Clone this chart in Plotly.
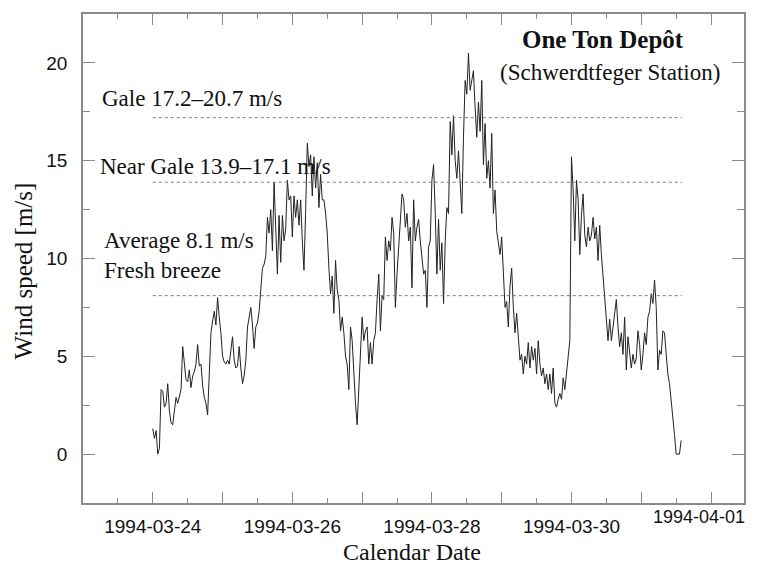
"""Wind speed time series at One Ton Depot (Schwerdtfeger AWS), late March 1994."""
import pandas as pd
import plotly.graph_objects as go

# --- Data (one sample every 24/42 h from 1994-03-24 00:00) ---

START = "1994-03-24 00:00"
STEP_HOURS = 24 / 42

wind_24 = [
    1.3, 0.8, 1.2, 0.0, 0.3, 3.3, 3.2, 2.4, 2.6, 3.6, 2.2, 1.6, 1.5, 2.4, 2.9, 2.6,
    3.0, 3.3, 5.5, 4.8, 3.8, 3.7, 4.3, 3.4, 4.0, 4.2, 4.6, 5.6, 4.5, 4.6, 3.5, 2.9,
    2.6, 2.0, 4.5, 6.2, 6.8, 7.3, 6.6, 8.0, 7.0, 6.2, 5.0, 4.7, 4.6, 4.8, 4.6, 5.3,
    6.0,
]
wind_25 = [
    4.8, 4.4, 4.5, 5.5, 4.4, 3.6, 4.0, 4.8, 6.5, 7.0, 7.5, 6.6, 5.4, 6.5, 6.7, 7.3,
    8.5, 9.5, 9.7, 10.1, 12.1, 11.3, 12.5, 10.4, 13.9, 11.9, 9.2, 12.2, 9.8, 12.2,
    10.9, 11.5, 14.0, 13.0, 13.2, 11.1, 13.2, 12.1, 13.0, 11.7, 13.0, 10.9, 9.4,
    12.4, 15.9, 14.7, 15.3, 13.2, 15.2, 13.6, 14.9, 12.6, 14.3, 13.0,
]
wind_26 = [
    13.0, 12.3, 11.3, 9.5, 8.2, 9.1, 7.2, 9.9, 8.4, 7.9, 6.3, 7.0, 6.2, 5.0, 4.6,
    3.3, 6.5, 5.8, 4.1, 2.6, 1.5, 3.1, 5.1, 7.0, 5.8, 6.3, 6.5, 4.6, 5.7, 4.6, 5.8,
    6.2, 7.9, 9.2, 6.3, 8.1, 7.9, 11.1, 9.9, 10.9, 10.4, 12.1, 11.3, 7.5, 9.2,
    10.6, 12.4, 13.3, 13.0, 11.6, 12.3, 10.9, 11.6, 8.5,
]
wind_28 = [
    13.0, 10.9, 11.6, 12.0, 10.9, 10.1, 9.2, 9.4, 7.5, 10.6, 10.9, 14.0, 14.8,
    12.3, 9.2, 12.0, 9.4, 10.8, 7.7, 10.9, 12.6, 12.3, 17.0, 15.3, 17.3, 15.0,
    14.1, 15.5, 13.5, 12.3, 16.2, 19.1, 18.4, 20.5, 18.6, 19.1, 19.6, 17.7, 16.2,
    18.0, 16.5, 19.1, 14.8, 16.9, 14.1, 15.0, 13.6, 16.4, 12.3, 13.5, 11.4, 10.8,
    10.2, 11.1,
]
wind_29 = [
    8.9, 7.5, 7.8, 6.5, 8.6, 9.5, 7.5, 6.2, 7.2, 5.8, 4.8, 5.1, 4.1, 5.0, 4.6, 5.7,
    4.4, 5.5, 4.8, 5.4, 4.1, 5.8, 4.6, 4.0, 4.4, 3.6, 4.1, 3.3, 4.1, 3.1, 4.4, 2.6,
    2.4, 2.8, 3.1, 2.8, 3.9, 3.3, 4.1, 5.0, 5.8, 15.2, 13.5, 10.9, 14.0, 13.0, 10.2,
    12.2, 13.3, 11.2, 10.6, 11.6, 10.9, 11.2,
]
wind_30 = [
    12.1, 11.0, 11.6, 9.9, 11.7, 10.2, 9.2, 7.9, 7.2, 5.8, 6.9, 5.8, 6.5, 7.2, 7.9,
    6.5, 5.5, 6.2, 5.1, 7.0, 4.3, 6.0, 5.1, 4.4, 5.1, 4.6, 4.9, 6.3, 5.6, 4.3, 5.1,
    6.2, 5.6, 7.0, 7.3, 8.2, 7.7, 8.9, 7.5, 4.3, 5.3, 5.1, 6.3, 6.2, 5.1, 4.1, 3.6,
    2.8, 1.7, 1.0, 0.0, 0.0, 0.0, 0.7,
]

# Beaufort reference levels
level_values = [17.2, 13.9, 8.1]
level_start = "1994-03-24 00:00"
level_end = "1994-03-31 14:00"

# Text labels: (text, x, y)
level_labels = [
    ("Gale 17.2–20.7 m/s", "1994-03-23 05:50", 18.2),
    ("Near Gale 13.9–17.1 m/s", "1994-03-23 05:10", 14.7),
    ("Average 8.1 m/s", "1994-03-23 06:30", 10.9),
    ("Fresh breeze", "1994-03-23 06:30", 9.4),
]

x_tickvals = pd.date_range("1994-03-24", "1994-04-01", freq="D")
# last label (1994-04-01) is drawn separately, pulled in from the right edge
x_ticktext = [d.strftime("%Y-%m-%d") if i % 2 == 0 and i < 8 else ""
              for i, d in enumerate(x_tickvals)]
last_date_label = "1994-04-01"
y_tickvals = [0, 5, 10, 15, 20]

# --- Style ---
_SERIF = "Liberation Serif, Times New Roman, serif"
_SANS = "Liberation Sans, Arial, sans-serif"
_FRAME = "#8a8a8a"
_TEXT = "#111111"

wind = wind_24 + wind_25 + wind_26 + wind_28 + wind_29 + wind_30
times = pd.date_range(START, periods=len(wind), freq=pd.Timedelta(hours=STEP_HOURS))

fig = go.Figure()

fig.add_trace(go.Scatter(
    x=times, y=wind,
    mode="lines",
    line=dict(color="#222222", width=1),
    hoverinfo="skip",
    showlegend=False,
))

for lv in level_values:
    fig.add_shape(
        type="line", xref="x", yref="y",
        x0=level_start, x1=level_end, y0=lv, y1=lv,
        line=dict(color="#7a7a7a", width=1, dash="3px,3px"),
    )

for text, x, y in level_labels:
    fig.add_annotation(
        x=x, y=y, xref="x", yref="y", text=text, showarrow=False,
        xanchor="left", yanchor="middle",
        font=dict(family=_SERIF, size=23, color=_TEXT),
    )

# Station name
fig.add_annotation(
    x=0.787, y=0.947, xref="paper", yref="paper", showarrow=False,
    text="<b>One Ton Depôt</b>", xanchor="center", yanchor="middle",
    font=dict(family=_SERIF, size=25, color=_TEXT),
)
fig.add_annotation(
    x=0.798, y=0.881, xref="paper", yref="paper", showarrow=False,
    text="(Schwerdtfeger Station)", xanchor="center", yanchor="middle",
    font=dict(family=_SERIF, size=23, color=_TEXT),
)

# Axis titles
fig.add_annotation(
    x=-0.0905, y=0.474, xref="paper", yref="paper", showarrow=False,
    text="Wind speed [m/s]", textangle=-90, xanchor="center", yanchor="middle",
    font=dict(family=_SERIF, size=25, color=_TEXT),
)
fig.add_annotation(
    x=0.498, y=-0.100, xref="paper", yref="paper", showarrow=False,
    text="Calendar Date", xanchor="center", yanchor="middle",
    font=dict(family=_SERIF, size=24, color=_TEXT),
)
fig.add_annotation(
    x=1.004, y=-0.028, xref="paper", yref="paper", showarrow=False,
    text=last_date_label, xanchor="right", yanchor="middle",
    font=dict(family=_SANS, size=18, color=_TEXT),
)

fig.update_layout(
    width=758, height=565,
    margin=dict(l=83, r=12, t=14, b=62),
    paper_bgcolor="white",
    plot_bgcolor="white",
    showlegend=False,
    xaxis=dict(
        range=["1994-03-23 00:00", "1994-04-01 11:20"],
        tickmode="array", tickvals=x_tickvals, ticktext=x_ticktext,
        ticks="inside", ticklen=11, tickwidth=1, tickcolor=_FRAME,
        minor=dict(ticks="inside", ticklen=5, tickcolor=_FRAME,
                   tick0="1994-03-23", dtick=12 * 3600 * 1000, showgrid=False),
        showline=True, linecolor=_FRAME, linewidth=1.5, mirror="ticks",
        showgrid=False, zeroline=False,
        tickfont=dict(family=_SANS, size=19, color=_TEXT),
        ticklabelstandoff=5,
    ),
    yaxis=dict(
        range=[-2.5, 22.5],
        tickmode="array", tickvals=y_tickvals,
        ticks="inside", ticklen=12, tickwidth=1, tickcolor=_FRAME,
        minor=dict(ticks="inside", ticklen=7, tickcolor=_FRAME,
                   tick0=0, dtick=2.5, showgrid=False),
        showline=True, linecolor=_FRAME, linewidth=1.5, mirror="ticks",
        showgrid=False, zeroline=False,
        tickfont=dict(family=_SANS, size=19, color=_TEXT),
        ticklabelstandoff=10,
    ),
)

# drop the browser's default body margin so the figure sits at the page origin
fig.write_html(
    "out.html",
    config={"displayModeBar": False},
    post_script="document.body.style.margin='0';document.body.style.overflow='hidden';",
)
